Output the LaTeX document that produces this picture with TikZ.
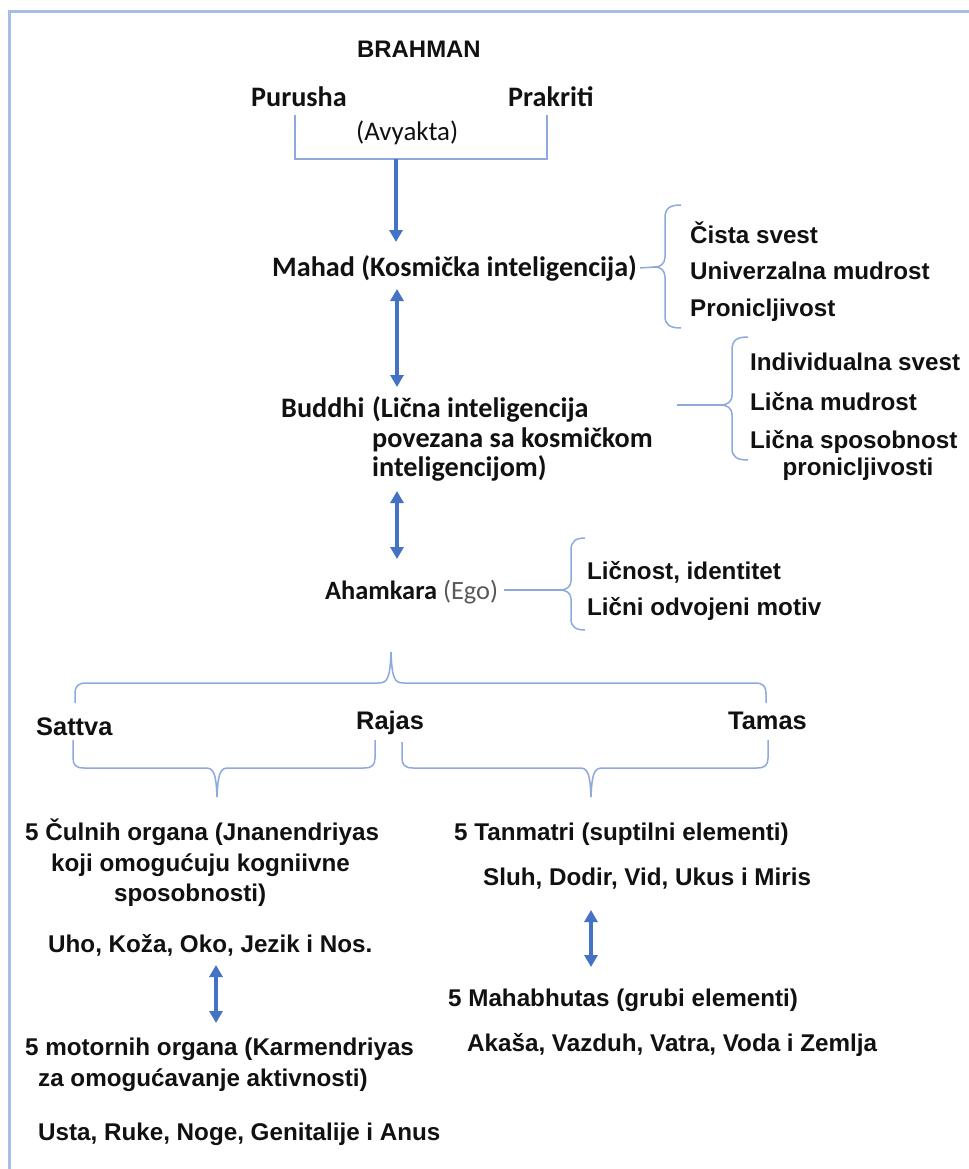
\documentclass[tikz,border=0pt]{standalone}
\usepackage{fontspec}
\setmainfont{Liberation Sans}
\newfontfamily\calfont{Carlito}
\usetikzlibrary{arrows.meta}
\definecolor{txt}{HTML}{111111}
\definecolor{egocol}{HTML}{595959}
\definecolor{brcol}{HTML}{8EA9DB}
\definecolor{arcol}{HTML}{4472C4}
\definecolor{framecol}{HTML}{A6BEE4}
\begin{document}
\begin{tikzpicture}[x=1bp,y=-1bp,
  ar/.style={anchor=base west,yshift=-8.8bp,inner sep=0pt,text=txt,font=\fontsize{24.3}{29}\selectfont\bfseries},
  arb/.style={anchor=base west,yshift=-9.2bp,inner sep=0pt,text=txt,font=\fontsize{25.5}{30}\selectfont\bfseries},
  ca/.style={anchor=base west,yshift=-9bp,inner sep=0pt,text=txt,font=\calfont\fontsize{28.3}{33}\selectfont\bfseries},
  brc/.style={draw=brcol,line width=1.5bp},
  arr/.style={draw=arcol,line width=3.2bp,-{Triangle[width=13bp,length=12bp]}},
  darr/.style={draw=arcol,line width=3.2bp,{Triangle[width=13bp,length=12bp]}-{Triangle[width=13bp,length=12bp]}}]
\useasboundingbox (0,0) rectangle (969,1169);
\fill[white] (0,0) rectangle (969,1169);
% frame
\draw[draw=framecol,line width=3bp] (9,1169) -- (9,11.5) -- (969,11.5);

% top
\node[arb,font=\fontsize{24}{28}\selectfont\bfseries] (brahman) at (357,48) {BRAHMAN};
\node[ca] (purusha) at (251,97) {Purusha};
\node[ca] (prakriti) at (508,97) {Prakriti};
\node[ca,font=\calfont\fontsize{27}{30}\selectfont] (avyakta) at (356,131) {(Avyakta)};
\coordinate (bl) at (295,115);
\coordinate (br) at (547,115);
\coordinate (bm) at (396,159);
\draw[brc] (bl) -- (295,159) -- (547,159) -- (br);
\coordinate (a1e) at (396,242);
\draw[arr] (bm) -- (a1e);

% Mahad
\node[ca] (mahad) at (272,267) {Mahad (Kosmička inteligencija)};
\node[ar] (m1) at (690,235) {Čista svest};
\node[ar] (m2) at (690,271) {Univerzalna mudrost};
\node[ar] (m3) at (690,308) {Pronicljivost};
\coordinate (mtip) at (655,267);
\draw[brc] (mahad.east) ++(3,0) -- (mtip);
\draw[brc] (681,205) .. controls (670,205) and (665,208) .. (665,218) -- (665,257)
  .. controls (665,264) and (660,267) .. (mtip)
  .. controls (660,267) and (665,270) .. (665,277) -- (665,316)
  .. controls (665,325) and (670,328) .. (681,328);

% arrow Mahad-Buddhi
\coordinate (a2s) at (397,289);
\coordinate (a2e) at (397,387);
\draw[darr] (a2s) -- (a2e);

% Buddhi
\node[ca] (buddhi) at (281,408) {Buddhi};
\node[ca] (b1) at (372,408) {(Lična inteligencija};
\node[ca] (b2) at (372,438) {povezana sa kosmičkom};
\node[ca] (b3) at (372,467) {inteligencijom)};
\node[ar] (bl1) at (750,362) {Individualna svest};
\node[ar] (bl2) at (750,402) {Lična mudrost};
\node[ar] (bl3) at (750,440) {Lična sposobnost};
\node[ar,anchor=base] (bl4) at (858,467) {pronicljivosti};
\coordinate (bls) at (677,405);
\coordinate (btip) at (721,405);
\draw[brc] (bls) -- (btip);
\draw[brc] (748,337) .. controls (737,337) and (732,340) .. (732,350) -- (732,395)
  .. controls (732,402) and (727,405) .. (btip)
  .. controls (727,405) and (732,408) .. (732,415) -- (732,448)
  .. controls (732,457) and (737,460) .. (748,460);

% arrow Buddhi-Ahamkara
\coordinate (a3s) at (397,491);
\coordinate (a3e) at (397,559);
\draw[darr] (a3s) -- (a3e);

% Ahamkara
\node[ca,font=\calfont\fontsize{26.5}{30}\selectfont\bfseries] (ahamkara) at (325,590) {Ahamkara \textcolor{egocol}{\mdseries(Ego)}};
\node[ar] (al1) at (587,571) {Ličnost, identitet};
\node[ar] (al2) at (587,607) {Lični odvojeni motiv};
\coordinate (als) at (504,590);
\coordinate (atip) at (560,590);
\draw[brc] (als) -- (atip);
\draw[brc] (585,538) .. controls (576,538) and (571,541) .. (571,550) -- (571,581)
  .. controls (571,587) and (566,590) .. (atip)
  .. controls (566,590) and (571,593) .. (571,599) -- (571,619)
  .. controls (571,627) and (576,630) .. (585,630);

% big brace
\coordinate (gtip) at (391,652);
\draw[brc] (75,703) -- (75,694) .. controls (75,686) and (78,683) .. (86,683) -- (378,683)
  .. controls (387,683) and (390,680) .. (gtip)
  .. controls (392,680) and (395,683) .. (404,683) -- (755,683)
  .. controls (763,683) and (766,686) .. (766,694) -- (766,703);

\node[arb] (sattva) at (36,726) {Sattva};
\node[arb] (rajas) at (356,720) {Rajas};
\node[arb] (tamas) at (728,720) {Tamas};

% lower braces
\coordinate (ltip) at (217,797);
\coordinate (rtip) at (591,797);
\draw[brc] (73,740) -- (73,758) .. controls (73,765) and (76,768) .. (84,768) -- (205,768)
  .. controls (213,768) and (216,771) .. (ltip)
  .. controls (218,771) and (221,768) .. (229,768) -- (364,768)
  .. controls (372,768) and (375,765) .. (375,758) -- (375,740);
\draw[brc] (402,742) -- (402,758) .. controls (402,765) and (405,768) .. (413,768) -- (579,768)
  .. controls (587,768) and (590,771) .. (rtip)
  .. controls (592,771) and (595,768) .. (603,768) -- (757,768)
  .. controls (765,768) and (768,765) .. (768,758) -- (768,740);

% lower left
\node[ar] (c1) at (25,832) {5 Čulnih organa (Jnanendriyas};
\node[ar] (c2) at (51,863) {koji omogućuju kogniivne};
\node[ar] (c3) at (114,893) {sposobnosti)};
\node[ar] (c4) at (48,944) {Uho, Koža, Oko, Jezik i Nos.};
\coordinate (a4s) at (216,965);
\coordinate (a4e) at (216,1023);
\draw[darr] (a4s) -- (a4e);
\node[ar] (k1) at (25,1047) {5 motornih organa (Karmendriyas};
\node[ar] (k2) at (38,1078) {za omogućavanje aktivnosti)};
\node[ar] (k3) at (38,1132) {Usta, Ruke, Noge, Genitalije i Anus};

% lower right
\node[ar] (t1) at (454,832) {5 Tanmatri (suptilni elementi)};
\node[ar] (t2) at (483,877) {Sluh, Dodir, Vid, Ukus i Miris};
\coordinate (a5s) at (591,910);
\coordinate (a5e) at (591,967);
\draw[darr] (a5s) -- (a5e);
\node[ar] (h1) at (448,998) {5 Mahabhutas (grubi elementi)};
\node[ar] (h2) at (467,1043) {Akaša, Vazduh, Vatra, Voda i Zemlja};
\end{tikzpicture}
\end{document}
